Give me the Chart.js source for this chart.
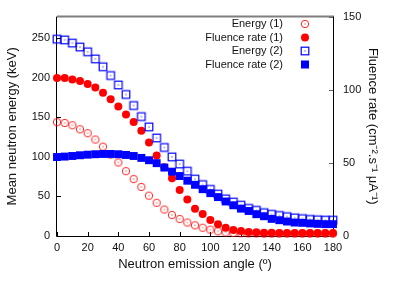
<!DOCTYPE html>
<html><head><meta charset="utf-8">
<script src="https://cdn.jsdelivr.net/npm/chart.js@4.4.1/dist/chart.umd.min.js"></script>
<style>html,body{margin:0;padding:0;background:#fff;} canvas{display:block;}</style>
</head><body>
<canvas id="c" width="401" height="281"></canvas>
<script>
const angles = [0,5,10,15,20,25,30,35,40,45,50,55,60,65,70,75,80,85,90,95,100,105,110,115,120,125,130,135,140,145,150,155,160,165,170,175,180];
const energy1 = [144,143,140,135,130,122,113,103,93,82,72,62,51,42,33.5,26.5,21.5,17,13.5,10.5,8,6,4.5,3.8,3.5,3.3,3.2,3,3,3,3,3,3,3,3,3,3];
const fluence1 = [108,108,107,106,104,101.5,98,93.5,88.5,83,78,72,64,55,47,39.5,31.5,25,18.7,15,11,8,5.6,4.1,3.4,2.8,2.5,2.3,2.2,2.1,2,2,2,2,2,2,2];
const energy2 = [249,248,244,239,233,224,214,203,191,179,165,151,138,124,112,100,91,82,72,65,59,53,47,43,39,35,32.5,29.5,27.5,26,24.5,23,22,21,20.5,20,20];
const fluence2 = [54,54.3,54.7,55.2,55.6,55.9,56.1,56.1,55.9,55.4,54.7,53.4,51.8,49.8,46.8,44,41,37.8,35,32,29.3,26.6,23.6,21,18.7,17.1,14.9,13.5,11.7,10.8,9.9,9.2,9,8.6,8.3,8.1,8.1];
const seriesNames = ['Energy (1)','Fluence rate (1)','Energy (2)','Fluence rate (2)'];
const xTickValues = [0,20,40,60,80,100,120,140,160,180];
const leftTickValues = [0,50,100,150,200,250];
const rightTickValues = [0,50,100,150];
const xTitle = 'Neutron emission angle (º)';
const yLeftTitle = 'Mean neutron energy (keV)';
const yRightTitle = 'Fluence rate (cm⁻².s⁻¹ μA⁻¹)';

const FONT = '"Liberation Sans", Arial, Helvetica, sans-serif';
const RED = '#ff0000', BLUE = '#0000ff';

function makeMarker(kind){
  const c = document.createElement('canvas');
  c.width = 12; c.height = 12;
  const g = c.getContext('2d');
  if(kind === 'ocircle'){
    g.strokeStyle = 'rgba(255,0,0,0.85)'; g.lineWidth = 1;
    g.beginPath(); g.arc(6,6,3.7,0,Math.PI*2); g.stroke();
    g.fillStyle = RED; g.fillRect(5.5,5.5,1,1);
  } else {
    g.strokeStyle = BLUE; g.lineWidth = 1.2;
    g.strokeRect(2.2,2.2,7.6,7.6);
    g.fillStyle = BLUE; g.fillRect(5.5,5.5,1,1);
  }
  return c;
}
const openCircle = makeMarker('ocircle');
const openSquare = makeMarker('osquare');

function pts(vals){ return angles.map((a,i)=>({x:a,y:vals[i]})); }

const styles = [
  {pointStyle: openCircle, pointRadius: 4, backgroundColor: RED, borderColor: RED, yAxisID:'y', order:4},
  {pointStyle: 'circle', pointRadius: 4, backgroundColor: RED, borderColor: RED, borderWidth:0, yAxisID:'y2', order:3},
  {pointStyle: openSquare, pointRadius: 4, backgroundColor: BLUE, borderColor: BLUE, yAxisID:'y', order:2},
  {pointStyle: 'rect', pointRadius: 5.6, backgroundColor: BLUE, borderColor: BLUE, borderWidth:0, yAxisID:'y2', order:1}
];
const seriesValues = [energy1, fluence1, energy2, fluence2];

const datasets = seriesValues.map((v,i)=>Object.assign({
  label: seriesNames[i], data: pts(v), showLine:false, clip:false, pointHoverRadius: styles[i].pointRadius
}, styles[i]));

const framePlugin = {
  id:'frame',
  beforeDatasetsDraw(chart){
    const {ctx, chartArea:a, scales} = chart;
    ctx.save();
    ctx.strokeStyle = '#7f7f7f'; ctx.lineWidth = 2;
    ctx.beginPath(); ctx.moveTo(a.left, a.top); ctx.lineTo(a.right+1, a.top); ctx.stroke();
    ctx.strokeStyle = '#000'; ctx.lineWidth = 1;
    ctx.beginPath();
    ctx.moveTo(Math.round(a.left)-0.5, a.top);
    ctx.lineTo(Math.round(a.left)-0.5, Math.round(a.bottom)+0.5);
    ctx.lineTo(Math.round(a.right)+0.5, Math.round(a.bottom)+0.5);
    ctx.lineTo(Math.round(a.right)+0.5, a.top);
    ctx.stroke();
    ctx.beginPath();
    leftTickValues.forEach(v=>{ const y = Math.round(scales.y.getPixelForValue(v))+0.5; ctx.moveTo(a.left, y); ctx.lineTo(a.left+4, y); });
    xTickValues.forEach(v=>{ const x = Math.round(scales.x.getPixelForValue(v))+0.5; ctx.moveTo(x, a.bottom); ctx.lineTo(x, a.bottom-4); });
    ctx.stroke();
    ctx.strokeStyle = '#666';
    ctx.beginPath();
    rightTickValues.forEach(v=>{ const y = Math.round(scales.y2.getPixelForValue(v))+0.5; ctx.moveTo(a.right, y); ctx.lineTo(a.right-4, y); });
    ctx.stroke();
    ctx.restore();
  },
  afterDraw(chart){
    const ctx = chart.ctx;
    ctx.save();
    ctx.font = '11px ' + FONT;
    ctx.fillStyle = '#111';
    ctx.textAlign = 'right'; ctx.textBaseline = 'middle';
    const rows = [24, 37.5, 51, 64.5];
    const mx = 305;
    seriesNames.forEach((n,i)=>{
      const y = rows[i];
      ctx.fillStyle = '#111';
      ctx.fillText(n, 283, y);
      if(i===0) ctx.drawImage(openCircle, mx-6, y-6);
      else if(i===2) ctx.drawImage(openSquare, mx-6, y-6);
      else if(i===1){ ctx.fillStyle = RED; ctx.beginPath(); ctx.arc(mx, y, 4, 0, Math.PI*2); ctx.fill(); }
      else { ctx.fillStyle = BLUE; ctx.fillRect(mx-4, y-4, 8, 8); }
    });
    ctx.restore();
  }
};

new Chart(document.getElementById('c'), {
  type: 'scatter',
  data: { datasets },
  options: {
    responsive: false,
    animation: false,
    events: [],
    layout: { padding: { top: 14, left: 0, right: 0, bottom: 0 } },
    plugins: { legend: { display: false }, tooltip: { enabled: false } },
    scales: {
      x: {
        type:'linear', position:'bottom', min:0, max:180,
        afterFit: s => { s.height = 45; },
        grid: { display:false, drawTicks:false },
        border: { display:false },
        ticks: { stepSize:20, padding:5, color:'#111', font:{family:FONT, size:11}, maxRotation:0, autoSkip:false },
        title: { display:true, text:xTitle, color:'#111', font:{family:FONT, size:13}, padding:{top:0, bottom:9} }
      },
      y: {
        type:'linear', position:'left', min:0, max:277.5,
        afterFit: s => { s.width = 57; },
        grid: { display:false, drawTicks:false },
        border: { display:false },
        ticks: { stepSize:50, includeBounds:false, padding:7, color:'#111', font:{family:FONT, size:11} },
        title: { display:true, text:yLeftTitle, color:'#111', font:{family:FONT, size:13}, padding:{top:5, bottom:0} }
      },
      y2: {
        type:'linear', position:'right', min:0, max:150,
        afterFit: s => { s.width = 68; },
        grid: { display:false, drawTicks:false },
        border: { display:false },
        ticks: { stepSize:50, padding:10, color:'#111', font:{family:FONT, size:11} },
        title: { display:true, text:yRightTitle, color:'#111', font:{family:FONT, size:13}, padding:{top:21, bottom:0} }
      }
    }
  },
  plugins: [framePlugin]
});
</script>
</body></html>
